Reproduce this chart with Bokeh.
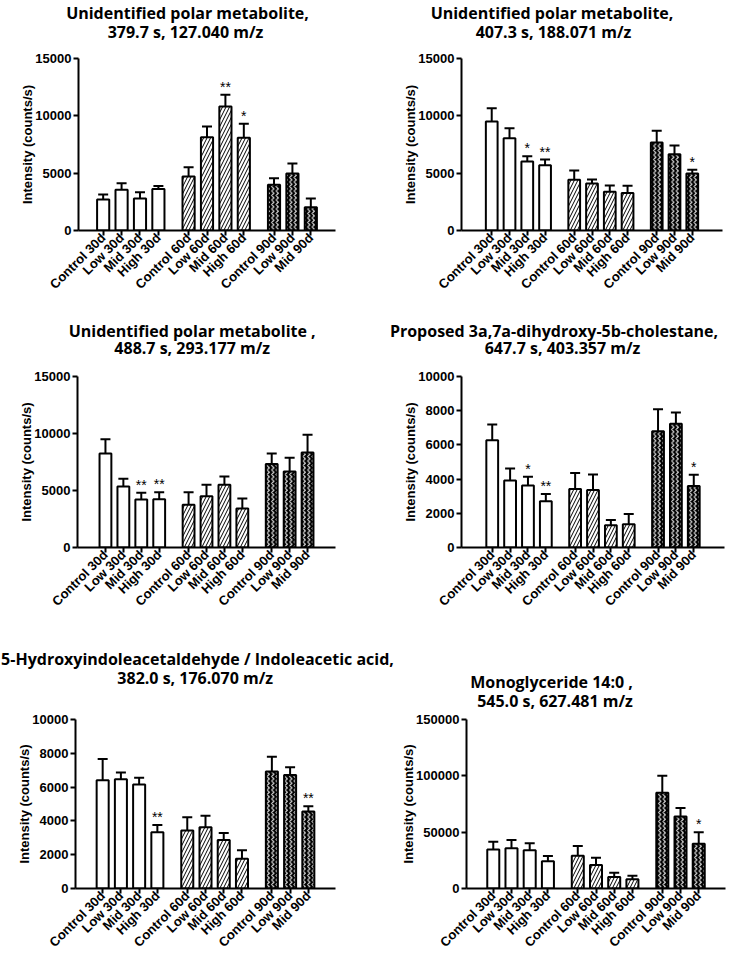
import math
from bokeh.plotting import figure
from bokeh.models import (ColumnDataSource, FactorRange, Range1d, Whisker, TeeHead,
                          FixedTicker, BasicTickFormatter)
from bokeh.layouts import column, row
from bokeh.embed import file_html
from bokeh.resources import INLINE
from bokeh.core.properties import value

# ---------------- data ----------------
groups = ["30d"] * 4 + ["60d"] * 4 + ["90d"] * 3
labels = ["Control 30d", "Low 30d", "Mid 30d", "High 30d",
          "Control 60d", "Low 60d", "Mid 60d", "High 60d",
          "Control 90d", "Low 90d", "Mid 90d"]

title1 = ["Unidentified polar metabolite,", "379.7 s, 127.040 m/z"]
means1 = [2700, 3550, 2780, 3630, 4710, 8140, 10810, 8080, 3980, 4970, 2030]
sems1 = [440, 580, 560, 240, 810, 930, 1020, 1220, 580, 870, 760]
stars1 = ["", "", "", "", "", "", "**", "*", "", "", ""]
yticks1 = [0, 5000, 10000, 15000]

title2 = ["Unidentified polar metabolite,", "407.3 s, 188.071 m/z"]
means2 = [9510, 8050, 6020, 5700, 4420, 4100, 3370, 3280, 7670, 6660, 4970]
sems2 = [1160, 870, 460, 490, 810, 350, 550, 620, 1020, 750, 320]
stars2 = ["", "", "*", "**", "", "", "", "", "", "", "*"]
yticks2 = [0, 5000, 10000, 15000]

title3 = ["Unidentified polar metabolite ,", "488.7 s, 293.177 m/z"]
means3 = [8250, 5360, 4200, 4230, 3760, 4490, 5500, 3420, 7330, 6660, 8340]
sems3 = [1250, 660, 610, 610, 1080, 1010, 730, 870, 920, 1220, 1560]
stars3 = ["", "", "**", "**", "", "", "", "", "", "", ""]
yticks3 = [0, 5000, 10000, 15000]

title4 = ["Proposed 3a,7a-dihydroxy-5b-cholestane,", "647.7 s, 403.357 m/z"]
means4 = [6270, 3920, 3630, 2700, 3420, 3360, 1300, 1360, 6800, 7240, 3590]
sems4 = [930, 700, 510, 430, 930, 910, 310, 600, 1280, 660, 660]
stars4 = ["", "", "*", "**", "", "", "", "", "", "", "*"]
yticks4 = [0, 2000, 4000, 6000, 8000, 10000]

title5 = ["5-Hydroxyindoleacetaldehyde / Indoleacetic acid,", "382.0 s, 176.070 m/z"]
means5 = [6400, 6470, 6160, 3330, 3430, 3620, 2870, 1760, 6920, 6710, 4550]
sems5 = [1270, 390, 390, 430, 790, 680, 410, 510, 870, 460, 310]
stars5 = ["", "", "", "**", "", "", "", "", "", "", "**"]
yticks5 = [0, 2000, 4000, 6000, 8000, 10000]

title6 = ["Monoglyceride 14:0 ,", "545.0 s, 627.481 m/z"]
means6 = [34600, 35800, 34000, 24100, 29100, 20900, 10200, 8100, 84900, 64000, 39800]
sems6 = [7000, 7200, 6100, 4700, 8700, 6400, 3800, 3200, 15100, 7500, 10200]
stars6 = ["", "", "", "", "", "", "", "", "", "", "*"]
yticks6 = [0, 50000, 100000, 150000]

# ---------------- styling ----------------
STYLE = {
    "30d": dict(fill="white", hatch=" ", hcolor="black", hscale=4),
    "60d": dict(fill="white", hatch="/", hcolor="black", hscale=7),
    "90d": dict(fill="black", hatch=">", hcolor="white", hscale=4.5),
}
TICK_FONT = "Liberation Sans"
TITLE_FONT = "Open Sans"
PAGE_W = 729


def title_strip(h, items):
    """items: list of (title_lines, [centre x per line], [centre y per line])"""
    xs, ys, ts = [], [], []
    for lines, cxs, cys in items:
        for t, cx, cy in zip(lines, cxs, cys):
            xs.append(cx)
            ys.append(cy)
            ts.append(t)
    s = figure(width=PAGE_W, height=h, x_range=Range1d(0, PAGE_W), y_range=Range1d(h, 0),
               output_backend="svg", toolbar_location=None, min_border=0,
               x_axis_type=None, y_axis_type=None)
    s.outline_line_color = None
    s.background_fill_color = "white"
    s.border_fill_color = "white"
    s.text(x=xs, y=ys, text=ts, text_align="center", text_baseline="middle",
           text_font=value(TITLE_FONT), text_font_style="bold",
           text_font_size="16px", text_color="black")
    return s


def make_panel(means, sems, stars, yticks, w, h, mbl, mbr, mbt, mbb, rpad):
    factors = list(zip(groups, labels))
    tops = [m + s for m, s in zip(means, sems)]
    src = ColumnDataSource(dict(
        x=factors, m=means, top=tops, star=stars,
        fill=[STYLE[g]["fill"] for g in groups],
        hatch=[STYLE[g]["hatch"] for g in groups],
        hcolor=[STYLE[g]["hcolor"] for g in groups],
        hscale=[STYLE[g]["hscale"] for g in groups],
    ))
    xr = FactorRange(*factors, group_padding=0.64, factor_padding=0,
                     range_padding=rpad, range_padding_units="absolute")
    p = figure(x_range=xr, y_range=Range1d(0, yticks[-1]), width=w, height=h,
               output_backend="svg", toolbar_location=None,
               min_border_left=mbl, min_border_right=mbr,
               min_border_top=mbt, min_border_bottom=mbb)
    p.vbar(x="x", top="m", width=0.66, bottom=0, source=src,
           fill_color="fill", line_color="black", line_width=2,
           hatch_pattern="hatch", hatch_color="hcolor", hatch_scale="hscale",
           hatch_weight=1.0)
    p.add_layout(Whisker(source=src, base="x", lower="m", upper="top",
                         dimension="height", line_width=2, line_color="black",
                         lower_head=None,
                         upper_head=TeeHead(size=10, line_width=2, line_color="black")))
    p.text(x="x", y="top", text="star", source=src, text_align="center",
           text_baseline="bottom", y_offset=0,
           text_font=value(TICK_FONT), text_font_size="14px", text_color="black")

    p.grid.visible = False
    p.outline_line_color = None
    p.background_fill_color = "white"
    p.border_fill_color = "white"

    ya = p.yaxis[0]
    ya.ticker = FixedTicker(ticks=yticks)
    ya.formatter = BasicTickFormatter(use_scientific=False)
    ya.minor_tick_line_color = None
    ya.axis_line_width = 2
    ya.major_tick_line_width = 2
    ya.major_tick_out = 5
    ya.major_tick_in = 0
    ya.major_label_standoff = 2
    ya.major_label_text_font = TICK_FONT
    ya.major_label_text_font_size = "13px"
    ya.major_label_text_font_style = "bold"
    ya.major_label_text_color = "black"
    ya.axis_label = "Intensity (counts/s)"
    ya.axis_label_text_font = TICK_FONT
    ya.axis_label_text_font_size = "13px"
    ya.axis_label_text_font_style = "bold"
    ya.axis_label_text_color = "black"
    ya.axis_label_standoff = -3

    xa = p.xaxis[0]
    xa.axis_line_width = 2
    xa.major_tick_line_width = 2
    xa.major_tick_out = 5
    xa.major_tick_in = 0
    xa.minor_tick_line_color = None
    xa.major_label_orientation = math.pi / 4
    xa.major_label_standoff = 0
    xa.major_label_text_font = TICK_FONT
    xa.major_label_text_font_size = "13px"
    xa.major_label_text_font_style = "bold"
    xa.major_label_text_color = "black"
    xa.group_text_font_size = "1px"
    xa.group_text_color = None
    xa.separator_line_color = None
    return p


s1 = title_strip(42, [(title1, [187, 185], [12, 31]), (title2, [551.5, 553], [12, 31])])
p1 = make_panel(means1, sems1, stars1, yticks1, 364, 258, 78, 29, 16, 70, 0.84)
p2 = make_panel(means2, sems2, stars2, yticks2, 365, 258, 97, 7, 16, 70, 1.2)

s2 = title_strip(57, [(title3, [191.7, 191.7], [30, 47]), (title4, [553.5, 562], [30, 47])])
p3 = make_panel(means3, sems3, stars3, yticks3, 364, 263, 77, 29, 17, 73, 1.06)
p4 = make_panel(means4, sems4, stars4, yticks4, 365, 263, 97, 5, 19, 72, 1.22)

s3 = title_strip(93, [(title5, [197, 194.7], [38, 57]), (title6, [551, 554.5], [61, 80])])
p5 = make_panel(means5, sems5, stars5, yticks5, 396, 245, 75, 61, 4, 69, 0.99)
p6 = make_panel(means6, sems6, stars6, yticks6, 333, 245, 70, 4, 6, 67, 0.97)

layout = column(s1, row(p1, p2), s2, row(p3, p4), s3, row(p5, p6))
open("out.html", "w").write(file_html(layout, INLINE))
